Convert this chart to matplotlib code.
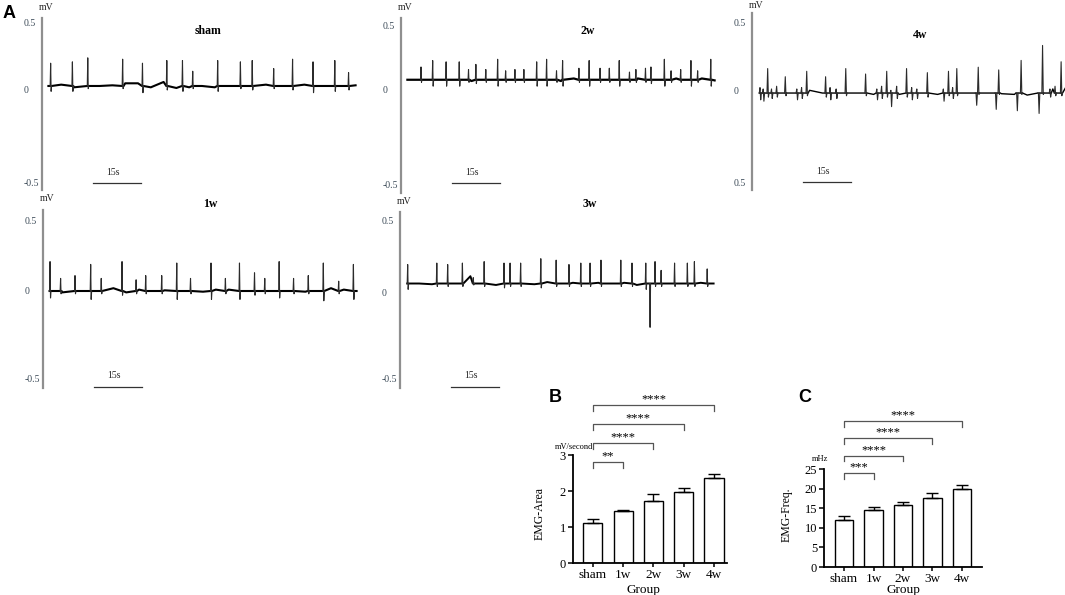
import numpy as np
import matplotlib
matplotlib.use('Agg')
import matplotlib.pyplot as plt

plt.rcParams['font.family'] = ['Liberation Serif', 'DejaVu Serif']

# ---------------- EMG traces (panel A) ----------------
# baseline samples every 4 s, deviation from the trace level (mV)
base_t = np.arange(2, 99, 4)

sham_level = 0.03
sham_wobble = [0, 0.01, -0.01, 0.02, 0, 0.005, 0.02, 0.02, -0.01, 0.03, -0.015, -0.01, 0,
               -0.01, 0, -0.01, -0.01, 0.01, 0, 0.03, 0.01, 0, 0, 0, 0.005]
sham_t = [2.7, 9.5, 14.3, 25.2, 31.4, 39.0, 43.9, 47.1, 54.9, 62.0, 65.7, 72.4, 78.3, 84.7, 91.5, 95.8]
sham_peak = [0.17, 0.18, 0.21, 0.20, 0.17, 0.19, 0.19, 0.11, 0.19, 0.18, 0.19, 0.13, 0.20, 0.18, 0.19, 0.10]
sham_dip = [-0.04, -0.04, -0.02, -0.02, -0.05, -0.03, -0.04, -0.02, -0.04, -0.02, -0.03, -0.02,
            -0.03, -0.05, -0.04, -0.03]

w1_level = 0.0
w1_wobble = [0, -0.01, 0, 0, 0.01, 0.02, -0.01, 0.01, 0, 0.005, 0, 0, -0.005, 0.01, 0.01, 0,
             0.01, 0, -0.005, -0.01, -0.005, 0, 0.02, 0.01, 0]
w1_t = [2.2, 5.5, 10.0, 14.9, 18.2, 24.7, 29.1, 32.1, 37.1, 41.8, 46.1, 52.5, 57.0, 61.4, 66.1,
        69.3, 73.8, 78.3, 82.9, 87.6, 92.4, 97.0]
w1_peak = [0.21, 0.09, 0.11, 0.19, 0.09, 0.21, 0.08, 0.11, 0.11, 0.20, 0.09, 0.20, 0.09, 0.20,
           0.13, 0.09, 0.21, 0.09, 0.11, 0.20, 0.07, 0.19]
w1_dip = [-0.05, -0.02, -0.02, -0.06, -0.02, -0.03, -0.02, -0.02, -0.02, -0.06, -0.02, -0.06,
          -0.02, -0.06, -0.03, -0.02, -0.05, -0.02, -0.02, -0.07, -0.02, -0.06]

w2_level = 0.08
w2_wobble = [0, 0, 0.02, -0.01, 0, -0.01, 0, 0.01, 0, 0, 0.01, 0, -0.01, 0.01, 0, -0.01, 0, 0,
             0.01, -0.01, 0, 0.01, 0, 0.01, -0.005]
w2_t = [6.25, 9.9, 14.1, 18.2, 21.1, 23.4, 26.5, 30.2, 32.7, 35.6, 38.4, 42.4, 45.5, 48.6, 50.5,
        55.6, 58.8, 62.2, 65.1, 68.2, 71.4, 73.4, 76.4, 78.1, 82.3, 84.4, 87.4, 90.6, 92.7, 96.8]
w2_peak = [0.10, 0.15, 0.14, 0.14, 0.08, 0.12, 0.08, 0.16, 0.07, 0.08, 0.08, 0.14, 0.16, 0.07,
           0.15, 0.09, 0.15, 0.09, 0.09, 0.15, 0.06, 0.08, 0.09, 0.10, 0.16, 0.07, 0.08, 0.15,
           0.07, 0.16]
w2_dip = [-0.02, -0.05, -0.05, -0.05, -0.02, -0.03, -0.02, -0.05, -0.02, -0.02, -0.02, -0.05,
          -0.05, -0.02, -0.05, -0.02, -0.05, -0.02, -0.02, -0.05, -0.02, -0.02, -0.02, -0.03,
          -0.05, -0.02, -0.02, -0.05, -0.02, -0.05]

w3_level = 0.065
w3_wobble = [0.01, 0, -0.005, 0, 0, 0.05, -0.03, -0.01, -0.02, 0, -0.005, 0.01, 0, 0.005, 0,
             0.005, 0, 0.005, -0.01, 0.02, 0, 0, 0.01, 0.005, 0]
w3_t = [2.4, 11.5, 14.9, 19.5, 22.9, 26.3, 32.5, 34.4, 37.7, 44.0, 48.8, 52.8, 56.5, 59.4, 62.8,
        69.0, 72.5, 76.8, 78.0, 79.7, 81.6, 85.8, 89.8, 92.0, 96.0]
w3_peak = [0.13, 0.14, 0.13, 0.14, 0.04, 0.15, 0.14, 0.14, 0.14, 0.17, 0.16, 0.13, 0.14, 0.14,
           0.16, 0.16, 0.14, 0.14, 0.0, 0.15, 0.09, 0.14, 0.14, 0.15, 0.10]
w3_dip = [-0.04, -0.02, -0.02, -0.02, -0.01, -0.02, -0.03, -0.02, -0.02, -0.03, -0.02, -0.02,
          -0.02, -0.02, -0.02, -0.02, -0.02, -0.04, -0.30, -0.02, -0.02, -0.02, -0.02, -0.02, -0.02]

w4_level = -0.015
w4_wobble = [0, -0.02, 0.01, -0.02, 0.02, 0, -0.02, 0, 0, -0.01, 0.01, -0.01, 0.01, 0, -0.01,
             0.02, 0, 0, 0, -0.005, -0.01, -0.015, -0.02, 0.03, 0.04]
w4_t = [2.5, 3.5, 4.9, 6.1, 7.7, 10.4, 14.0, 15.5, 17.1, 23.0, 24.4, 26.3, 29.3, 35.5, 39.0,
        40.5, 42.1, 43.4, 45.2, 48.3, 49.9, 51.5, 54.8, 59.8, 61.4, 62.7, 64.0, 70.0, 70.7,
        76.1, 77.1, 82.7, 84.1, 89.5, 90.8, 93.1, 94.7, 96.6]
w4_peak = [0.04, 0.03, 0.18, 0.03, 0.05, 0.12, 0.03, 0.04, 0.16, 0.12, 0.04, 0.03, 0.18, 0.14,
           0.03, 0.05, 0.16, 0.02, 0.05, 0.18, 0.04, 0.03, 0.15, 0.03, 0.16, 0.04, 0.18, 0.0,
           0.19, 0.0, 0.17, 0.0, 0.24, 0.0, 0.35, 0.03, 0.05, 0.23]
w4_dip = [-0.05, -0.06, -0.03, -0.04, -0.03, -0.02, -0.05, -0.04, -0.02, -0.03, -0.05, -0.04,
          -0.02, -0.02, -0.05, -0.04, -0.03, -0.10, -0.04, -0.03, -0.05, -0.04, -0.03, -0.06,
          -0.02, -0.04, -0.02, -0.09, -0.01, -0.12, -0.01, -0.13, -0.01, -0.15, -0.01, -0.03,
          -0.02, -0.02]

# ---------------- bar charts (panels B and C) ----------------
groups = ['sham', '1w', '2w', '3w', '4w']
area_mean = [1.10, 1.45, 1.72, 1.97, 2.35]
area_err = [0.13, 0.03, 0.20, 0.10, 0.13]
freq_mean = [11.9, 14.6, 15.9, 17.7, 19.8]
freq_err = [1.0, 0.8, 0.7, 1.1, 1.1]
sig_pairs = [(0, 1), (0, 2), (0, 3), (0, 4)]
area_sig = ['**', '****', '****', '****']
freq_sig = ['***', '****', '****', '****']

W, H = 1065, 595
fig = plt.figure(figsize=(W / 100, H / 100), dpi=100)


def fx(px):
    return px / W


def fy(py):
    return 1 - py / H


def px_axes(x0, y0, x1, y1):
    return fig.add_axes([x0 / W, 1 - y1 / H, (x1 - x0) / W, (y1 - y0) / H])


PX_PER_S = 3.2
LABEL_C = '#3b4a57'


def baseline_pts(level, wobble, st, hw):
    pts = []
    for t, w in zip(base_t, wobble):
        if min(abs(t - s) for s in st) > 3 * hw:
            pts.append((t, level + w))
    for t in st:
        pts += [(t - hw, level), (t + 2 * hw, level)]
    pts.sort()
    return np.array(pts)


panels = [
    # name, spine x, top, bottom, y(0.5), y(0), y(-0.5), title x, title y, bar y, trace, labels
    ('sham', 42, 18, 190, 23, 90, 183, 208, 31, 183,
     (sham_level, sham_wobble, sham_t, sham_peak, sham_dip, 0.15, 1.5), ['-0.5', '0', '0.5']),
    ('2w', 401, 18, 193, 26, 90, 184, 588, 31, 183,
     (w2_level, w2_wobble, w2_t, w2_peak, w2_dip, 0.15, 1.6), ['-0.5', '0', '0.5']),
    ('4w', 752, 13, 190, 23, 91, 182, 920, 35, 182,
     (w4_level, w4_wobble, w4_t, w4_peak, w4_dip, 0.22, 1.0), ['0.5', '0', '0.5']),
    ('1w', 43, 210, 388, 221, 291, 379, 210, 204, 387,
     (w1_level, w1_wobble, w1_t, w1_peak, w1_dip, 0.15, 1.5), ['-0.5', '0', '0.5']),
    ('3w', 400, 212, 388, 220, 293, 379, 590, 204, 387,
     (w3_level, w3_wobble, w3_t, w3_peak, w3_dip, 0.15, 1.4), ['-0.5', '0', '0.5']),
]

for name, sx, top, bot, y05, y0, ym05, tx, ty, by, tr, labs in panels:
    ax = px_axes(sx, top, sx + 320, bot)
    k = 0.5 / (y0 - y05)
    ax.set_xlim(0, 100)
    ax.set_ylim(-(bot - y0) * k, (y0 - top) * k)
    level, wob, st, sp, sd, hw, lw = tr
    base = baseline_pts(level, wob, st, hw)
    ax.plot(base[:, 0], base[:, 1], color='black', lw=lw)
    # thin spikes on top of the thicker baseline
    for t, p, d in zip(st, sp, sd):
        ax.plot([t - hw, t, t + hw, t + 2 * hw], [level, level + p, level + d, level],
                color='#2b2b2b', lw=0.8)
    for s in ['top', 'right', 'bottom']:
        ax.spines[s].set_visible(False)
    ax.spines['left'].set_color('#8f8f8f')
    ax.spines['left'].set_linewidth(1.6)
    ax.set_xticks([])
    ax.set_yticks([-(ym05 - y0) * k, 0, 0.5])
    ax.set_yticklabels(labs, fontsize=7, color=LABEL_C)
    ax.tick_params(axis='y', length=0, pad=13.5)
    for lab in ax.get_yticklabels():
        lab.set_horizontalalignment('left')
    ax.patch.set_alpha(0)
    # scale bar 15 s
    ax.plot([16, 31], [(y0 - by) * k] * 2, color='#333333', lw=0.9, clip_on=False)
    fig.text(fx(sx + 16 * PX_PER_S + 20), fy(by - 11), '15s', fontsize=7, ha='center',
             va='center', color='#222222')
    fig.text(fx(sx + 4), fy(max(top - 11, 6)), 'mV', fontsize=7, ha='center', va='center',
             color='#222222')
    fig.text(fx(tx), fy(ty), name, fontsize=8.5, fontweight='bold', ha='center', va='center')


def bar_panel(box, xlim, ymax, yticks, means, errs, sig, base, step, ylabel, unit, unit_xy,
              ylab_xy, grp_xy):
    ax = px_axes(*box)
    x = np.arange(len(groups))
    ax.bar(x, means, width=0.63, color='white', edgecolor='black', linewidth=1.0, zorder=2)
    ax.errorbar(x, means, yerr=[np.zeros(len(errs)), errs], fmt='none', ecolor='black',
                elinewidth=1.0, capsize=4.3, capthick=1.0, zorder=3)
    ax.set_xlim(*xlim)
    ax.set_ylim(0, ymax)
    ax.set_yticks(yticks)
    ax.set_xticks(x)
    ax.set_xticklabels(groups, fontsize=9.5)
    ax.tick_params(axis='y', labelsize=9, length=3.5, width=1.1, pad=1.5)
    ax.tick_params(axis='x', length=3, width=1.1, pad=1.5)
    for s in ['top', 'right']:
        ax.spines[s].set_visible(False)
    for s in ['left', 'bottom']:
        ax.spines[s].set_linewidth(1.3)
    ax.set_ylabel(ylabel, fontsize=8.5)
    ax.yaxis.set_label_coords(*ylab_xy)
    ax.set_xlabel('Group', fontsize=9.5)
    ax.xaxis.set_label_coords(*grp_xy)
    tip = step * 0.33
    for i, ((a, b), s) in enumerate(zip(sig_pairs, sig)):
        yb = base + i * step
        ax.plot([a, a, b, b], [yb - tip, yb, yb, yb - tip], color='#555555', lw=0.9,
                clip_on=False)
        ax.annotate(s, xy=((a + b) / 2, yb), xytext=(0, 4.2), textcoords='offset points',
                    ha='center', va='center', fontsize=9, annotation_clip=False)
    fig.text(fx(unit_xy[0]), fy(unit_xy[1]), unit, fontsize=6, ha='right', va='center')
    return ax


bar_panel((573, 455, 727, 563), (-0.66, 4.43), 3, [0, 1, 2, 3], area_mean, area_err, area_sig,
          2.8, 0.53, 'EMG-Area', 'mV/second', (593, 447), (-0.18, 0.46), (0.455, -0.19))
bar_panel((824, 469, 982, 567), (-0.68, 4.68), 25, [0, 5, 10, 15, 20, 25], freq_mean, freq_err,
          freq_sig, 24.0, 4.4, 'EMG-Freq.', 'mHz', (828, 459), (-0.20, 0.53), (0.5, -0.17))

# panel letters
for letter, x, y in [('A', 9.5, 14), ('B', 555, 397), ('C', 805, 397)]:
    fig.text(fx(x), fy(y), letter, fontsize=13, fontweight='bold', ha='center', va='center',
             family=['Liberation Sans', 'DejaVu Sans'])

fig.savefig('out.png', dpi=100)
